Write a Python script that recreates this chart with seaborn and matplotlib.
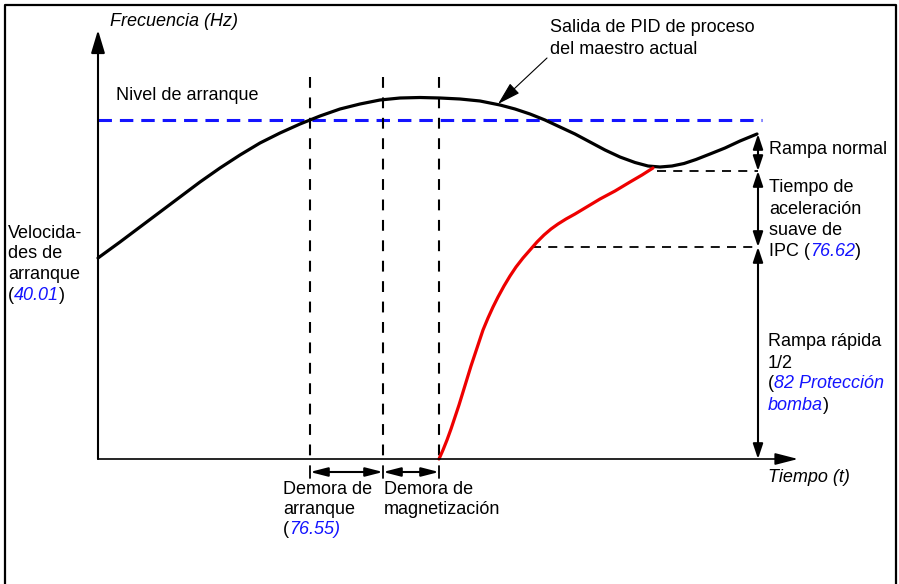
import matplotlib
matplotlib.use("Agg")
import matplotlib.pyplot as plt
import seaborn as sns

pid_t = [98, 120, 140, 160, 180, 200, 220, 240, 260, 280, 300, 320, 340, 360, 380, 400,
         420, 440, 460, 480, 500, 515, 530, 545, 560, 575, 590, 605, 620, 635, 648, 660,
         672, 684, 696, 710, 725, 740, 757]
pid_f = [258, 242, 227, 212, 197, 182, 168, 155, 143, 133, 124, 116, 109, 104, 100, 98,
         97.5, 98, 99, 101, 105, 109, 114, 120, 127, 134, 142, 150, 157, 162.5, 166, 167,
         166, 163.5, 159.5, 154, 148, 141, 134]

soft_t = [439, 443, 447, 451, 455, 459, 463, 467, 471, 475, 479, 483, 488, 493, 498, 504,
          510, 516, 523, 530, 537, 544, 551, 558, 566, 575, 585, 600, 615, 630, 642, 653]
soft_f = [459, 450, 440, 429, 417, 405, 392, 379, 366, 354, 342, 330, 318, 307, 297, 286,
          276, 267, 258, 250, 242, 235, 229, 224, 219, 214, 208, 199, 191, 182, 175, 168]

start_level = 120
t_start, t_delay_end, t_mag_end = 310, 383, 439
ramp_top, soft_top, fast_top, f_zero = 134, 171, 247, 459
t_ramp = 758

BLUE = "#1414ff"
FS = 13

sns.set_style("white")
plt.rcParams["font.family"] = ["Liberation Sans", "DejaVu Sans"]

fig = plt.figure(figsize=(8.99, 5.84), dpi=100)
ax = fig.add_axes([0, 0, 1, 1])
ax.set_xlim(0, 899)
ax.set_ylim(584, 0)
ax.set_axis_off()

# outer frame
ax.plot([5, 5, 896, 896], [590, 5, 5, 590], color="black", lw=1.6)

# axes with arrows
ax.annotate("", xy=(98, 30), xytext=(98, f_zero),
            arrowprops=dict(arrowstyle="-|>,head_length=1.4,head_width=0.42", color="black",
                            lw=1.5, shrinkA=0, shrinkB=0, mutation_scale=10))
ax.annotate("", xy=(798, f_zero), xytext=(98, f_zero),
            arrowprops=dict(arrowstyle="-|>,head_length=1.4,head_width=0.36", color="black",
                            lw=1.2, shrinkA=0, shrinkB=0, mutation_scale=10))

# start level
sns.lineplot(x=[98, 762], y=[start_level, start_level], color=BLUE, lw=2.2,
             linestyle=(0, (4.4, 2.6)), ax=ax)

# delay markers
for t in [t_start, t_delay_end, t_mag_end]:
    ax.plot([t, t], [77, f_zero], color="black", lw=1.5, linestyle=(0, (5.2, 4.6)))
    ax.plot([t, t], [466, 478], color="black", lw=1.3)

# ramp levels
ax.plot([657, t_ramp], [soft_top, soft_top], color="black", lw=1.3, linestyle=(0, (5, 4)))
ax.plot([532, t_ramp], [fast_top, fast_top], color="black", lw=1.3, linestyle=(0, (5, 4)))

# curves
sns.lineplot(x=pid_t, y=pid_f, sort=False, estimator=None, color="black", lw=2.3,
             solid_joinstyle="round", solid_capstyle="round", ax=ax)
sns.lineplot(x=soft_t, y=soft_f, sort=False, estimator=None, color="#ee0000", lw=2.3,
             solid_joinstyle="round", solid_capstyle="round", ax=ax)


def darrow(p0, p1, hl, hw, lw=1.5):
    ax.annotate("", xy=p1, xytext=p0,
                arrowprops=dict(arrowstyle=f"<|-|>,head_length={hl},head_width={hw}",
                                color="black", lw=lw, shrinkA=0, shrinkB=0, mutation_scale=10))


darrow((t_ramp, ramp_top), (t_ramp, soft_top), 0.9, 0.3)
darrow((t_ramp, soft_top), (t_ramp, fast_top), 0.9, 0.3)
darrow((t_ramp, fast_top), (t_ramp, f_zero), 0.9, 0.3)
darrow((t_start, 472), (t_delay_end, 472), 1.05, 0.27)
darrow((t_delay_end, 472), (t_mag_end, 472), 1.05, 0.27)

# PID output pointer
ax.annotate("", xy=(498, 104), xytext=(547, 58),
            arrowprops=dict(arrowstyle="-|>,head_length=1.45,head_width=0.42", color="black",
                            lw=0.8, shrinkA=0, shrinkB=0, mutation_scale=10))

renderer = fig.canvas.get_renderer()


def rich(x, y, parts):
    for s, color, style in parts:
        t = ax.text(x, y, s, color=color, style=style, fontsize=FS, ha="left", va="center")
        bb = t.get_window_extent(renderer)
        x = ax.transData.inverted().transform((bb.x1, bb.y0))[0]


def block(x, y0, step, lines):
    for i, line in enumerate(lines):
        if isinstance(line, str):
            line = [(line, "black", "normal")]
        rich(x, y0 + i * step, line)


rich(110, 21, [("Frecuencia (Hz)", "black", "italic")])
rich(768, 478, [("Tiempo (t)", "black", "italic")])
rich(116, 96, [("Nivel de arranque", "black", "normal")])
block(550, 28, 21, ["Salida de PID de proceso", "del maestro actual"])
block(8, 233, 20.7, ["Velocida-", "des de", "arranque",
                     [("(", "black", "normal"), ("40.01", BLUE, "italic"), (")", "black", "normal")]])
rich(769, 150, [("Rampa normal", "black", "normal")])
block(769, 188, 21.3, ["Tiempo de", "aceleración", "suave de",
                       [("IPC (", "black", "normal"), ("76.62", BLUE, "italic"), (")", "black", "normal")]])
block(768, 342, 21, ["Rampa rápida", "1/2",
                     [("(", "black", "normal"), ("82 Protección", BLUE, "italic")],
                     [("bomba", BLUE, "italic"), (")", "black", "normal")]])
block(283, 489, 20.5, ["Demora de", "arranque",
                       [("(", "black", "normal"), ("76.55)", BLUE, "italic")]])
block(384, 489, 20.5, ["Demora de", "magnetización"])

fig.savefig("out.png", dpi=100)
